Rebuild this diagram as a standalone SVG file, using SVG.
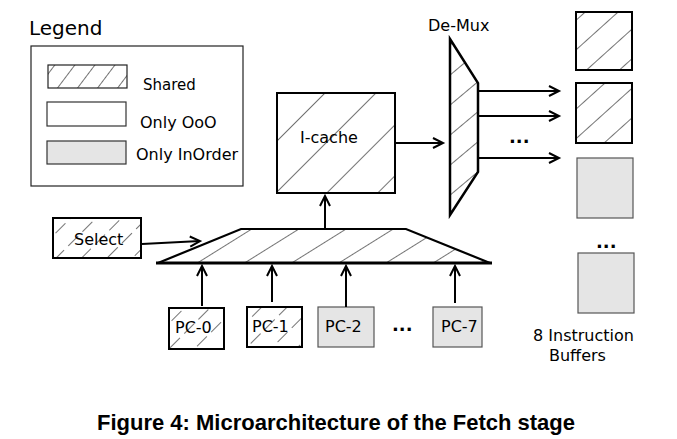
<svg xmlns="http://www.w3.org/2000/svg" width="677" height="439" viewBox="0 0 677 439">
<style>
text{font-family:"DejaVu Sans",Verdana,sans-serif;font-size:16px;fill:#000}
.hl{stroke:#000;stroke-width:1.1}
.box{stroke:#000;stroke-width:2}
.gray{fill:#e5e5e5;stroke:#555;stroke-width:1.2}
.conn{fill:none;stroke:#000;stroke-width:2;marker-end:url(#arr)}
.dots{font-weight:bold;font-size:18px}
</style>
<defs>
<marker id="arr" markerUnits="userSpaceOnUse" markerWidth="14" markerHeight="14" refX="11" refY="6" orient="auto">
<path d="M1,1 L11,6 L1,11" fill="none" stroke="#000" stroke-width="2"/>
</marker>
<pattern id="hLeg" width="16" height="10" patternUnits="userSpaceOnUse" patternTransform="translate(3,0) rotate(37)"><line class="hl" x1="0" y1="0" x2="0" y2="10"/></pattern>
<pattern id="hBig" width="36" height="10" patternUnits="userSpaceOnUse" patternTransform="translate(10,0) rotate(45)"><line class="hl" x1="0" y1="0" x2="0" y2="10"/></pattern>
<pattern id="hBuf" width="22" height="10" patternUnits="userSpaceOnUse" patternTransform="translate(6,0) rotate(48)"><line class="hl" x1="0" y1="0" x2="0" y2="10"/></pattern>
<pattern id="hMux" width="25" height="10" patternUnits="userSpaceOnUse" patternTransform="translate(4,0) rotate(58)"><line class="hl" x1="0" y1="0" x2="0" y2="10"/></pattern>
<pattern id="hDmx" width="23" height="10" patternUnits="userSpaceOnUse" patternTransform="translate(2,0) rotate(50)"><line class="hl" x1="0" y1="0" x2="0" y2="10"/></pattern>
<pattern id="hDash" width="18" height="20" patternUnits="userSpaceOnUse" patternTransform="translate(5,3) rotate(45)"><line class="hl" x1="0" y1="0" x2="0" y2="20" stroke-dasharray="7 6"/></pattern>
</defs>
<rect width="677" height="439" fill="#fff"/>

<g id="legend">
<text x="29" y="35" style="font-size:20px">Legend</text>
<rect x="31" y="46" width="212" height="140" fill="none" stroke="#222" stroke-width="1.2"/>
<rect x="48" y="65" width="79" height="23" fill="url(#hLeg)" stroke="#222" stroke-width="1.2"/>
<text x="143" y="90" style="font-size:15px">Shared</text>
<rect x="47" y="102" width="79" height="24" fill="#fff" stroke="#333" stroke-width="1.2"/>
<text x="140" y="128">Only OoO</text>
<rect x="47" y="141" width="79" height="23" fill="#e5e5e5" stroke="#333" stroke-width="1.2"/>
<text x="136" y="160">Only InOrder</text>
</g>

<g id="icache">
<rect class="box" x="277" y="93" width="118" height="100" fill="url(#hBig)"/>
<text x="300" y="143">I-cache</text>
</g>

<g id="demux">
<text x="428" y="31">De-Mux</text>
<polygon points="450,39 478,83 478,172 450,215" fill="url(#hDmx)" stroke="#000" stroke-width="2.5" stroke-linejoin="miter"/>
</g>

<g id="buffer-0"><rect class="box" x="576" y="12" width="56" height="58" fill="url(#hBuf)"/></g>
<g id="buffer-1"><rect class="box" x="576" y="83" width="56" height="60" fill="url(#hBuf)"/></g>
<g id="buffer-2"><rect class="gray" x="577" y="158" width="56" height="60"/></g>
<g id="buffer-7"><rect class="gray" x="578" y="253" width="56" height="60"/></g>
<g id="buffer-label">
<text x="533" y="341">8 Instruction</text>
<text x="549" y="361">Buffers</text>
</g>

<g id="select">
<rect class="box" x="53" y="218" width="88" height="40" fill="url(#hDash)"/>
<text x="74" y="245">Select</text>
</g>

<g id="mux">
<polygon points="158,263 241,229 406,229 490,263" fill="url(#hMux)" stroke="#000" stroke-width="2.2" stroke-linejoin="miter"/>
<line x1="156" y1="263" x2="492" y2="263" stroke="#000" stroke-width="3"/>
</g>

<g id="pc-0"><rect class="box" x="169" y="308" width="55" height="41" fill="url(#hDash)"/><text x="175" y="333">PC-0</text></g>
<g id="pc-1"><rect class="box" x="247" y="307" width="55" height="40" fill="url(#hDash)"/><text x="252" y="332">PC-1</text></g>
<g id="pc-2"><rect class="gray" x="318" y="307" width="56" height="40"/><text x="325" y="332">PC-2</text></g>
<g id="pc-7"><rect class="gray" x="433" y="307" width="49" height="40"/><text x="441" y="332">PC-7</text></g>

<g id="ellipses">
<text class="dots" x="392" y="331">...</text>
<text class="dots" x="509" y="143">...</text>
<text class="dots" x="596" y="248">...</text>
</g>

<g id="connectors">
<line class="conn" x1="142" y1="244" x2="200" y2="241"/>
<line class="conn" x1="325" y1="228" x2="325" y2="196"/>
<line class="conn" x1="396" y1="143" x2="443" y2="143"/>
<line class="conn" x1="478" y1="91" x2="559" y2="91"/>
<line class="conn" x1="478" y1="116" x2="559" y2="116"/>
<line class="conn" x1="478" y1="158" x2="559" y2="158"/>
<line class="conn" x1="202" y1="306" x2="202" y2="266"/>
<line class="conn" x1="272" y1="302" x2="272" y2="266"/>
<line class="conn" x1="346" y1="307" x2="346" y2="266"/>
<line class="conn" x1="455" y1="303" x2="455" y2="266"/>
</g>

<text x="97" y="430" style="font-family:'Liberation Sans',Arial,sans-serif;font-weight:bold;font-size:21.5px" textLength="478" lengthAdjust="spacingAndGlyphs">Figure 4: Microarchitecture of the Fetch stage</text>
</svg>
